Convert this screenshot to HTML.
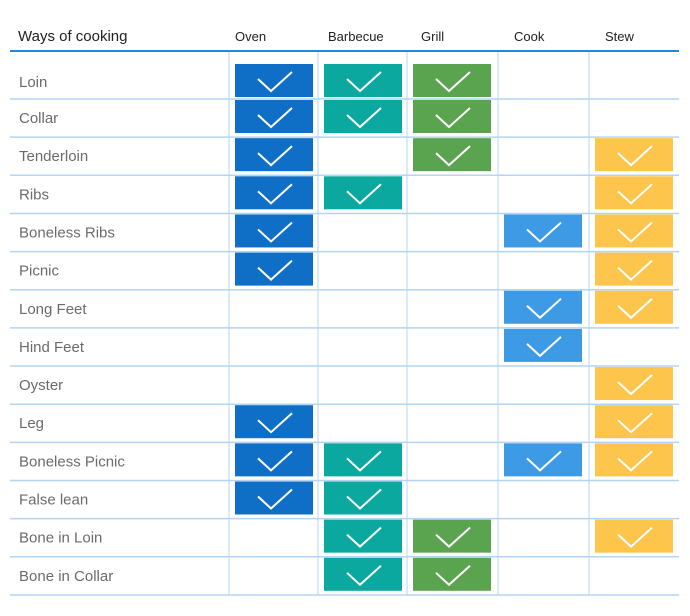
<!DOCTYPE html>
<html><head><meta charset="utf-8"><style>
body{margin:0;background:#fff;}
svg text{font-family:"Liberation Sans",sans-serif;}
</style></head><body>
<svg id="chart" width="690" height="611" xmlns="http://www.w3.org/2000/svg"></svg>
<script>
const categories = ["Loin","Collar","Tenderloin","Ribs","Boneless Ribs","Picnic","Long Feet","Hind Feet","Oyster","Leg","Boneless Picnic","False lean","Bone in Loin","Bone in Collar"];
const methods = ["Oven","Barbecue","Grill","Cook","Stew"];
const ovenValues = [1,1,1,1,1,1,0,0,0,1,1,1,0,0];
const barbecueValues = [1,1,0,1,0,0,0,0,0,0,1,1,1,1];
const grillValues = [1,1,1,0,0,0,0,0,0,0,0,0,1,1];
const cookValues = [0,0,0,0,1,0,1,1,0,0,1,0,0,0];
const stewValues = [0,0,1,1,1,1,1,0,1,1,1,0,1,0];
const series = [ovenValues,barbecueValues,grillValues,cookValues,stewValues];
const colors = ["#0f6fc6","#0aa89e","#5ba44f","#3d9be6","#fdc54b"];

const svg = document.getElementById('chart');
const NS = "http://www.w3.org/2000/svg";
const colX = [229,318,407,498,589,679];
const headerX = [235,328,421,514,605];
function rowTop(i){ return i===0 ? 62 : 99 + (i-1)*38.15 + 1; }
function rowLine(i){ return 99 + i*38.15; }
function mk(tag, attrs){ const e=document.createElementNS(NS,tag); for(const k in attrs) e.setAttribute(k,attrs[k]); svg.appendChild(e); return e; }

let t = mk('text',{x:18,y:41,'font-size':15,fill:'#222'});


t.textContent='Ways of cooking';
methods.forEach((m,j)=>{
  const h = mk('text',{x:headerX[j],y:41,'font-size':13,fill:'#222'});
  
  
  h.textContent=m;
});
// grid
for(let i=0;i<categories.length;i++){
  const l = mk('line',{x1:10,x2:679,y1:rowLine(i),y2:rowLine(i),stroke:'#b3d4f3','stroke-width':1.5});
  
  
}
colX.slice(0,5).forEach(x=>{
  const l = mk('line',{x1:x,x2:x,y1:51,y2:rowLine(categories.length-1),stroke:'#b3d4f3','stroke-width':1});
  
  
});
const hl = mk('line',{x1:10,x2:679,y1:51,y2:51,stroke:'#2a85d8','stroke-width':2});



categories.forEach((c,i)=>{
  const cy = i===0 ? 82 : rowLine(i-1)+19;
  const lab = mk('text',{x:19,y:cy+5,'font-size':15,fill:'#6b6b6b'});
  
  
  lab.textContent=c;
  series.forEach((vals,j)=>{
    if(!vals[i]) return;
    const bx = colX[j]+6, by = cy-18;
    const r = mk('rect',{x:bx,y:by,width:78,height:33,fill:colors[j]});
    
    
    const p = mk('polyline',{points:`${bx+23},${by+15} ${bx+36},${by+27} ${bx+57},${by+8}`,fill:'none',stroke:'#fff','stroke-width':2});
    
    
  });
});
</script>
</body></html>
